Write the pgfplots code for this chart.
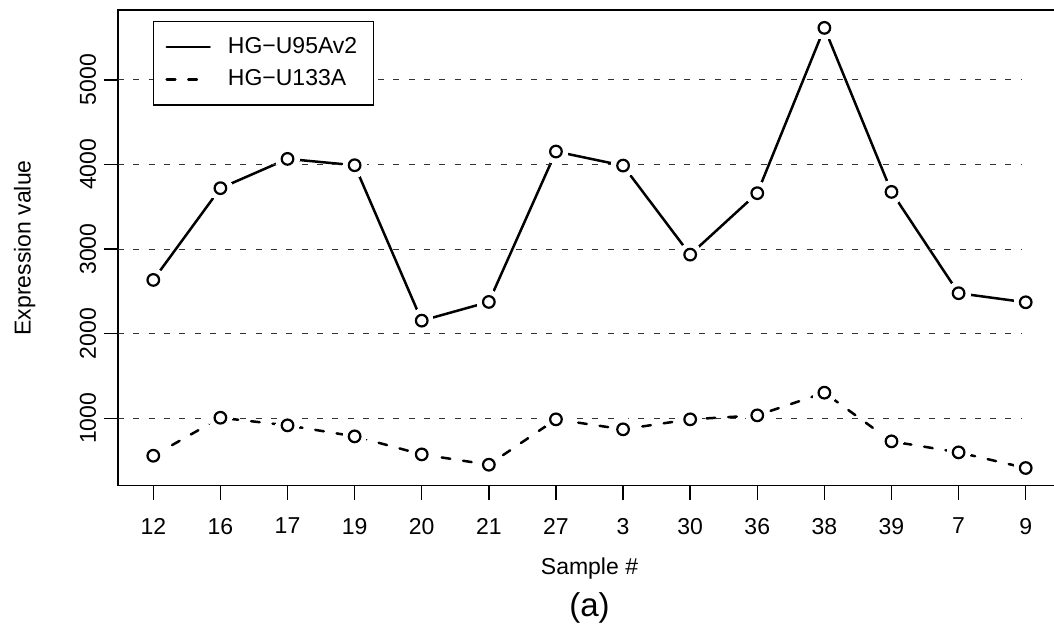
\documentclass[border=0pt]{standalone}
\usepackage{fontspec}
\setmainfont{Liberation Sans}
\usepackage{pgfplots}
\pgfplotsset{compat=1.18}
\begin{document}
\begin{tikzpicture}
\path[use as bounding box] (-59pt,-71.15pt) rectangle (468pt,242.85pt);
\begin{axis}[
  at={(0pt,0pt)}, anchor=south west,
  scale only axis, width=471.5pt, height=237.85pt,
  xmin=-0.526, xmax=13.526, ymin=204, ymax=5824,
  xtick={0,...,13},
  xticklabels={12,16,17,19,20,21,27,3,30,36,38,39,7,9},
  ytick={1000,2000,3000,4000,5000},
  scaled y ticks=false,
  /pgf/number format/1000 sep={},
  /pgf/number format/assume math mode=true,
  tick align=outside, major tick length=7.2pt,
  tick pos=left,
  tick style={black, line width=0.75pt},
  axis line style={line width=0.75pt},
  ticklabel style={font=\fontsize{11.5}{13}\selectfont},
  xticklabel style={anchor=north, inner sep=0pt, yshift=-8.8pt},
  yticklabel style={xshift=-3.8pt, rotate=90, anchor=base, inner sep=0pt},
  xlabel={Sample \#}, ylabel={Expression value},
  label style={font=\fontsize{11.5}{13}\selectfont},
  xlabel style={at={(axis description cs:0.5,-0.1877)}, anchor=base, inner sep=0pt},
  ylabel style={at={(axis description cs:-0.0926,0.5)}, anchor=base, inner sep=0pt},
  legend style={at={(axis description cs:0.0368,0.9775)}, anchor=north west,
    draw=black, line width=0.75pt, font=\fontsize{11.5}{13}\selectfont,
    inner xsep=6pt, inner ysep=6.1pt, row sep=2.5pt, column sep=6.5pt,
    nodes={inner sep=2pt}},
  legend cell align=left,
  legend image code/.code={\draw[#1, line width=1.25pt] (0pt,0pt) -- (21.5pt,0pt);},
]
% lines
\addplot[black, line width=1.25pt, line cap=round] coordinates {
 (0,2635) (1,3719) (2,4065) (3,3990) (4,2154) (5,2375) (6,4152)
 (7,3986) (8,2934) (9,3660) (10,5613) (11,3675) (12,2478) (13,2371)};
\addlegendentry{HG−U95Av2}
\addplot[black, line width=1.25pt, line cap=round, dash pattern=on 4.3pt off 6.5pt] coordinates {
 (0,558) (1,1007) (2,917) (3,787) (4,574) (5,452) (6,988)
 (7,870) (8,988) (9,1035) (10,1303) (11,728) (12,598) (13,413)};
\addlegendentry{HG−U133A}
% gaps around points
\addplot[forget plot, white, only marks, mark=*, mark size=5.9pt, mark options={draw=white, fill=white, line width=0pt}] coordinates {
 (0,2635) (1,3719) (2,4065) (3,3990) (4,2154) (5,2375) (6,4152)
 (7,3986) (8,2934) (9,3660) (10,5613) (11,3675) (12,2478) (13,2371)};
\addplot[forget plot, white, only marks, mark=*, mark size=5.9pt, mark options={draw=white, fill=white, line width=0pt}] coordinates {
 (0,558) (1,1007) (2,917) (3,787) (4,574) (5,452) (6,988)
 (7,870) (8,988) (9,1035) (10,1303) (11,728) (12,598) (13,413)};
% grid
\addplot[forget plot, black!80, line width=0.5pt, dash pattern=on 3pt off 4.65pt] coordinates {(-0.526,1000) (12.94,1000)};
\addplot[forget plot, black!80, line width=0.5pt, dash pattern=on 3pt off 4.65pt] coordinates {(-0.526,2000) (12.94,2000)};
\addplot[forget plot, black!80, line width=0.5pt, dash pattern=on 3pt off 4.65pt] coordinates {(-0.526,3000) (12.94,3000)};
\addplot[forget plot, black!80, line width=0.5pt, dash pattern=on 3pt off 4.65pt] coordinates {(-0.526,4000) (12.94,4000)};
\addplot[forget plot, black!80, line width=0.5pt, dash pattern=on 3pt off 4.65pt] coordinates {(-0.526,5000) (12.94,5000)};
% circles
\addplot[forget plot, only marks, mark=o, mark size=2.9pt, mark options={line width=1.1pt, black, solid}] coordinates {
 (0,2635) (1,3719) (2,4065) (3,3990) (4,2154) (5,2375) (6,4152)
 (7,3986) (8,2934) (9,3660) (10,5613) (11,3675) (12,2478) (13,2371)};
\addplot[forget plot, only marks, mark=o, mark size=2.9pt, mark options={line width=1.1pt, black, solid}] coordinates {
 (0,558) (1,1007) (2,917) (3,787) (4,574) (5,452) (6,988)
 (7,870) (8,988) (9,1035) (10,1303) (11,728) (12,598) (13,413)};
\end{axis}
\node[anchor=base, font=\fontsize{16.5}{19}\selectfont, inner sep=0pt] at (235.75pt,-65.5pt) {(a)};
\end{tikzpicture}
\end{document}
